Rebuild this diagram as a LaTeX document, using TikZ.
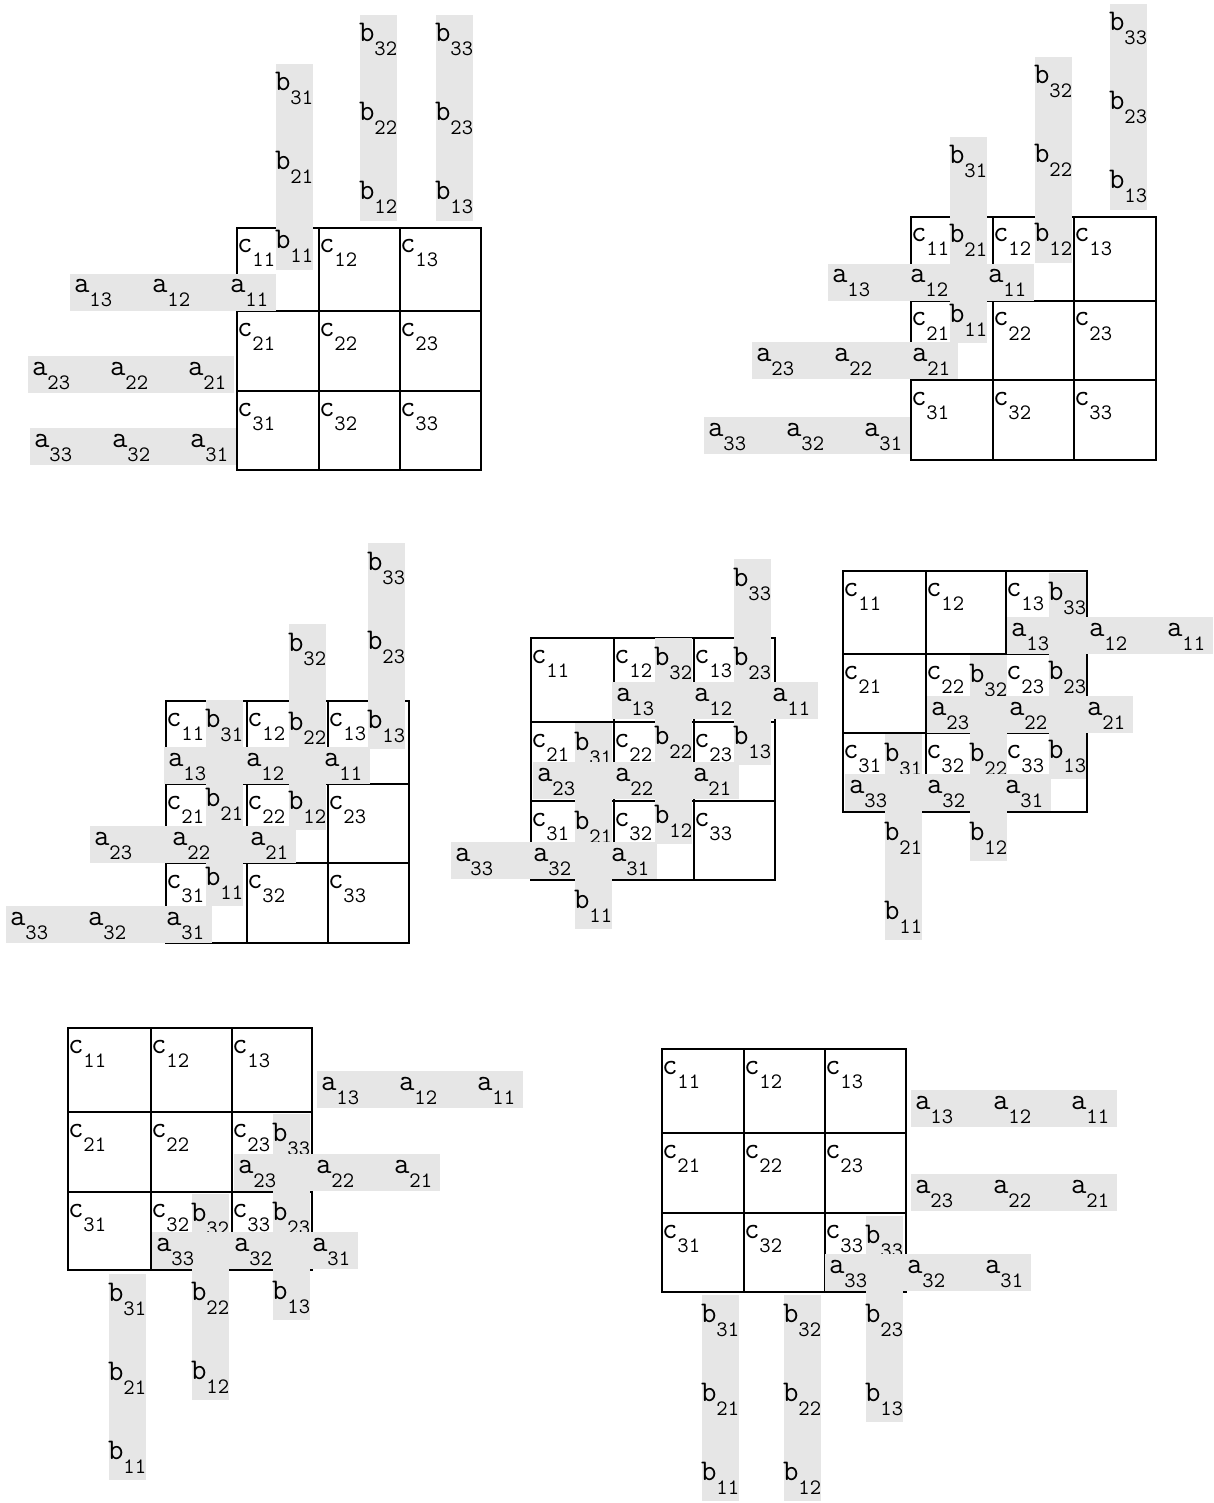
\documentclass[tikz,border=0pt]{standalone}
\usepackage{fontspec}
\newcommand\mainsz{\ttfamily\fontsize{30}{30}\selectfont}
\newcommand\subsz{\ttfamily\fontsize{22}{22}\selectfont}
\newcommand\lbl[2]{{\mainsz #1}\raisebox{-14pt}{\subsz #2}}
\definecolor{barg}{RGB}{230,230,230}
\tikzset{
  gridline/.style={draw=black, line width=2.4pt},
  barfill/.style={fill=barg},
  lab/.style={anchor=base west, inner sep=0pt, outer sep=0pt},
}
% grid with c labels: id, x0..x3, y0..y3
\newcommand\cgrid[9]{%
  \draw[gridline] (#2,#6) rectangle (#5,#9);
  \draw[gridline] (#3,#6) -- (#3,#9) (#4,#6) -- (#4,#9) (#2,#7) -- (#5,#7) (#2,#8) -- (#5,#8);
  \foreach \i/\yy in {1/#6,2/#7,3/#8}{
    \foreach \j/\xx in {1/#2,2/#3,3/#4}{
      \node[lab] (#1c\i\j) at (\xx,\yy+25) {\lbl{c}{\i\j}};
    }
  }
}
% a band: id, row, left x, top y
\newcommand\abar[4]{%
  \fill[barfill] (#3,#4) rectangle ++(206,37);
  \foreach \m/\k in {0/3,1/2,2/1}{
    \node[lab] (#1a#2\k) at (#3+4+78*\m,#4+19) {\lbl{a}{#2\k}};
  }
}
% b band: id, column, left x, top y
\newcommand\bbar[4]{%
  \fill[barfill] (#3,#4) rectangle ++(37,206);
  \foreach \m/\k in {0/3,1/2,2/1}{
    \node[lab] (#1b\k#2) at (#3-1,#4+27+79*\m) {\lbl{b}{\k#2}};
  }
}
\begin{document}
\begin{tikzpicture}[x=1pt,y=-1pt]
\fill[white] (0,0) rectangle (1213,1503);
\useasboundingbox (0,0) rectangle (1213,1503);
% Panel 1
\cgrid{p1}{237}{319}{400}{481}{228}{311}{391}{470}
\bbar{p1}{1}{276}{64}\bbar{p1}{2}{360}{15}\bbar{p1}{3}{436}{15}
\abar{p1}{1}{70}{274}\abar{p1}{2}{28}{356}\abar{p1}{3}{30}{428}
% Panel 2
\cgrid{p2}{911}{993}{1074}{1156}{217}{301}{380}{460}
\bbar{p2}{1}{950}{137}\bbar{p2}{2}{1035}{57}\bbar{p2}{3}{1110}{4}
\abar{p2}{1}{828}{264}\abar{p2}{2}{752}{342}\abar{p2}{3}{704}{417}
% Panel 3
\cgrid{p3}{166}{247}{328}{409}{701}{784}{863}{943}
\bbar{p3}{1}{206}{700}\bbar{p3}{2}{289}{624}\bbar{p3}{3}{368}{543}
\abar{p3}{1}{164}{747}\abar{p3}{2}{90}{826}\abar{p3}{3}{6}{906}
% Panel 4
\cgrid{p4}{531}{614}{694}{775}{638}{722}{801}{880}
\bbar{p4}{1}{575}{723}\bbar{p4}{2}{655}{638}\bbar{p4}{3}{734}{559}
\abar{p4}{1}{612}{682}\abar{p4}{2}{533}{762}\abar{p4}{3}{451}{842}
% Panel 5
\cgrid{p5}{843}{926}{1006}{1087}{571}{654}{733}{812}
\bbar{p5}{1}{885}{734}\bbar{p5}{2}{970}{655}\bbar{p5}{3}{1049}{573}
\abar{p5}{1}{1007}{617}\abar{p5}{2}{927}{696}\abar{p5}{3}{845}{774}
% Panel 6
\cgrid{p6}{68}{151}{232}{312}{1028}{1112}{1192}{1270}
\bbar{p6}{1}{109}{1274}\bbar{p6}{2}{192}{1194}\bbar{p6}{3}{273}{1114}
\abar{p6}{1}{317}{1071}\abar{p6}{2}{234}{1154}\abar{p6}{3}{152}{1232}
% Panel 7
\cgrid{p7}{662}{744}{825}{906}{1049}{1133}{1213}{1292}
\bbar{p7}{1}{702}{1295}\bbar{p7}{2}{784}{1295}\bbar{p7}{3}{866}{1216}
\abar{p7}{1}{911}{1090}\abar{p7}{2}{911}{1174}\abar{p7}{3}{825}{1254}
\end{tikzpicture}
\end{document}
